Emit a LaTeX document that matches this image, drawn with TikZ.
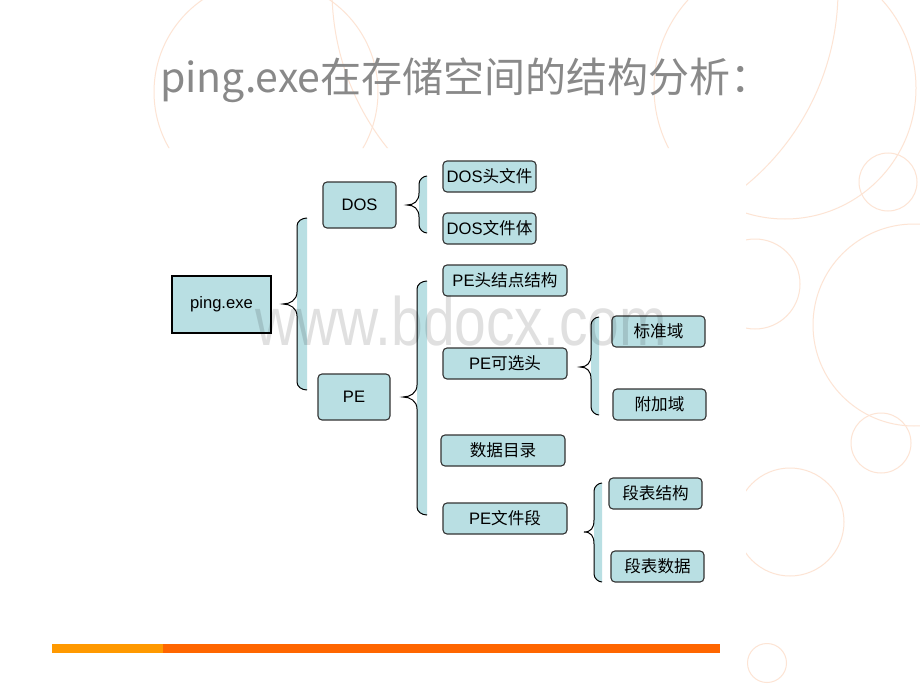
\documentclass[tikz,border=0pt]{standalone}
\usepackage{fontspec}
\setmainfont{Liberation Sans}
\newfontfamily\cjk{Noto Sans CJK SC}
\definecolor{boxfill}{RGB}{185,223,227}
\definecolor{ring}{RGB}{253,228,212}
\definecolor{titlegray}{RGB}{137,137,137}
\definecolor{barA}{RGB}{255,153,0}
\definecolor{barB}{RGB}{255,102,0}
% xt xa xr top mid bot
\newcommand{\mybrace}[6]{%
  \fill[boxfill] (#3,#4) .. controls (#2+4.5,#4) and (#2,#4+3.5) .. (#2,#4+8)
     -- (#2,#6-8) .. controls (#2,#6-3.5) and (#2+4.5,#6) .. (#3,#6) -- cycle;
  \draw[bracestyle] (#3,#4) .. controls (#2+4.5,#4) and (#2,#4+3.5) .. (#2,#4+8)
     -- (#2,#5-12) .. controls (#2,#5-4) and (#1+7,#5) .. (#1,#5)
     .. controls (#1+7,#5) and (#2,#5+4) .. (#2,#5+12)
     -- (#2,#6-8) .. controls (#2,#6-3.5) and (#2+4.5,#6) .. (#3,#6);
}
\begin{document}
\begin{tikzpicture}[x=1pt,y=-1pt,
  box/.style={draw=black!80, line width=1.1pt, fill=boxfill, rounded corners=4pt,
    inner sep=0pt, font=\fontsize{16.6}{16.6}\selectfont},
  bracestyle/.style={draw=black, line width=1pt},
  ringline/.style={draw=ring, line width=1pt}]
\useasboundingbox (0,0) rectangle (920,690);
\fill[white] (0,0) rectangle (920,690);
% decorative rings
\begin{scope}
  \clip (0,0) -- (920,0) -- (920,690) -- (746,690) -- (746,148) -- (0,148) -- cycle;
  \draw[ringline] (266,92) circle (112);
  \draw[ringline] (585,-10) circle (253);
  \draw[ringline] (785,88) circle (131);
  \draw[ringline] (888,182) circle (29);
  \draw[ringline] (755,284) circle (45);
  \draw[ringline] (914,325) circle (101);
  \draw[ringline] (881,443) circle (30);
  \draw[ringline] (790,522) circle (54);
  \draw[ringline] (767,663) circle (19.5);
\end{scope}
% title
\node[font=\cjk\fontsize{41}{41}\selectfont, text=titlegray, anchor=base west, inner sep=0pt]
  (title) at (160,93) {ping.exe在存储空间的结构分析：};
% bottom bar
\fill[barA] (52,644) rectangle (163,653);
\fill[barB] (163,644) rectangle (720,653);
% braces
\mybrace{283}{297}{307}{218}{304}{390}
\mybrace{407}{419}{427}{176}{205}{233}
\mybrace{403}{417}{427}{281}{397}{515}
\mybrace{580}{591}{599}{317}{367}{415}
\mybrace{584}{594}{602}{483}{532}{582}
% nodes
\node[box, rounded corners=0pt, draw=black, minimum width=99pt, minimum height=57pt] (ping) at (221.5,304.5) {ping.exe};
\node[box, minimum width=73pt, minimum height=46pt] (dos) at (359.5,205) {DOS};
\node[box, minimum width=72pt, minimum height=46pt] (pe) at (354,397) {PE};
\node[box, minimum width=93pt, minimum height=31pt] (dosh) at (489.5,176.5) {DOS{\cjk 头文件}};
\node[box, minimum width=93pt, minimum height=31pt] (dosb) at (489.5,228.5) {DOS{\cjk 文件体}};
\node[box, minimum width=124pt, minimum height=31pt] (peh) at (505,280.5) {PE{\cjk 头结点结构}};
\node[box, minimum width=124pt, minimum height=31pt] (peo) at (505,363.5) {PE{\cjk 可选头}};
\node[box, minimum width=124pt, minimum height=31pt] (dir) at (503,450.5) {\cjk 数据目录};
\node[box, minimum width=124pt, minimum height=31pt] (pes) at (505,518.5) {PE{\cjk 文件段}};
\node[box, minimum width=93pt, minimum height=31pt] (std) at (658.5,331.5) {\cjk 标准域};
\node[box, minimum width=93pt, minimum height=31pt] (add) at (659.5,404.5) {\cjk 附加域};
\node[box, minimum width=93pt, minimum height=31pt] (sst) at (655.5,493.5) {\cjk 段表结构};
\node[box, minimum width=93pt, minimum height=31pt] (sdt) at (657.5,566.5) {\cjk 段表数据};
% watermark
\node[anchor=base west, inner sep=0pt, text=black, opacity=0.12, font=\fontsize{57}{57}\selectfont]
  (wm) at (255,345) {\scalebox{1}[1.2]{www.bdocx.com}};
\end{tikzpicture}
\end{document}
